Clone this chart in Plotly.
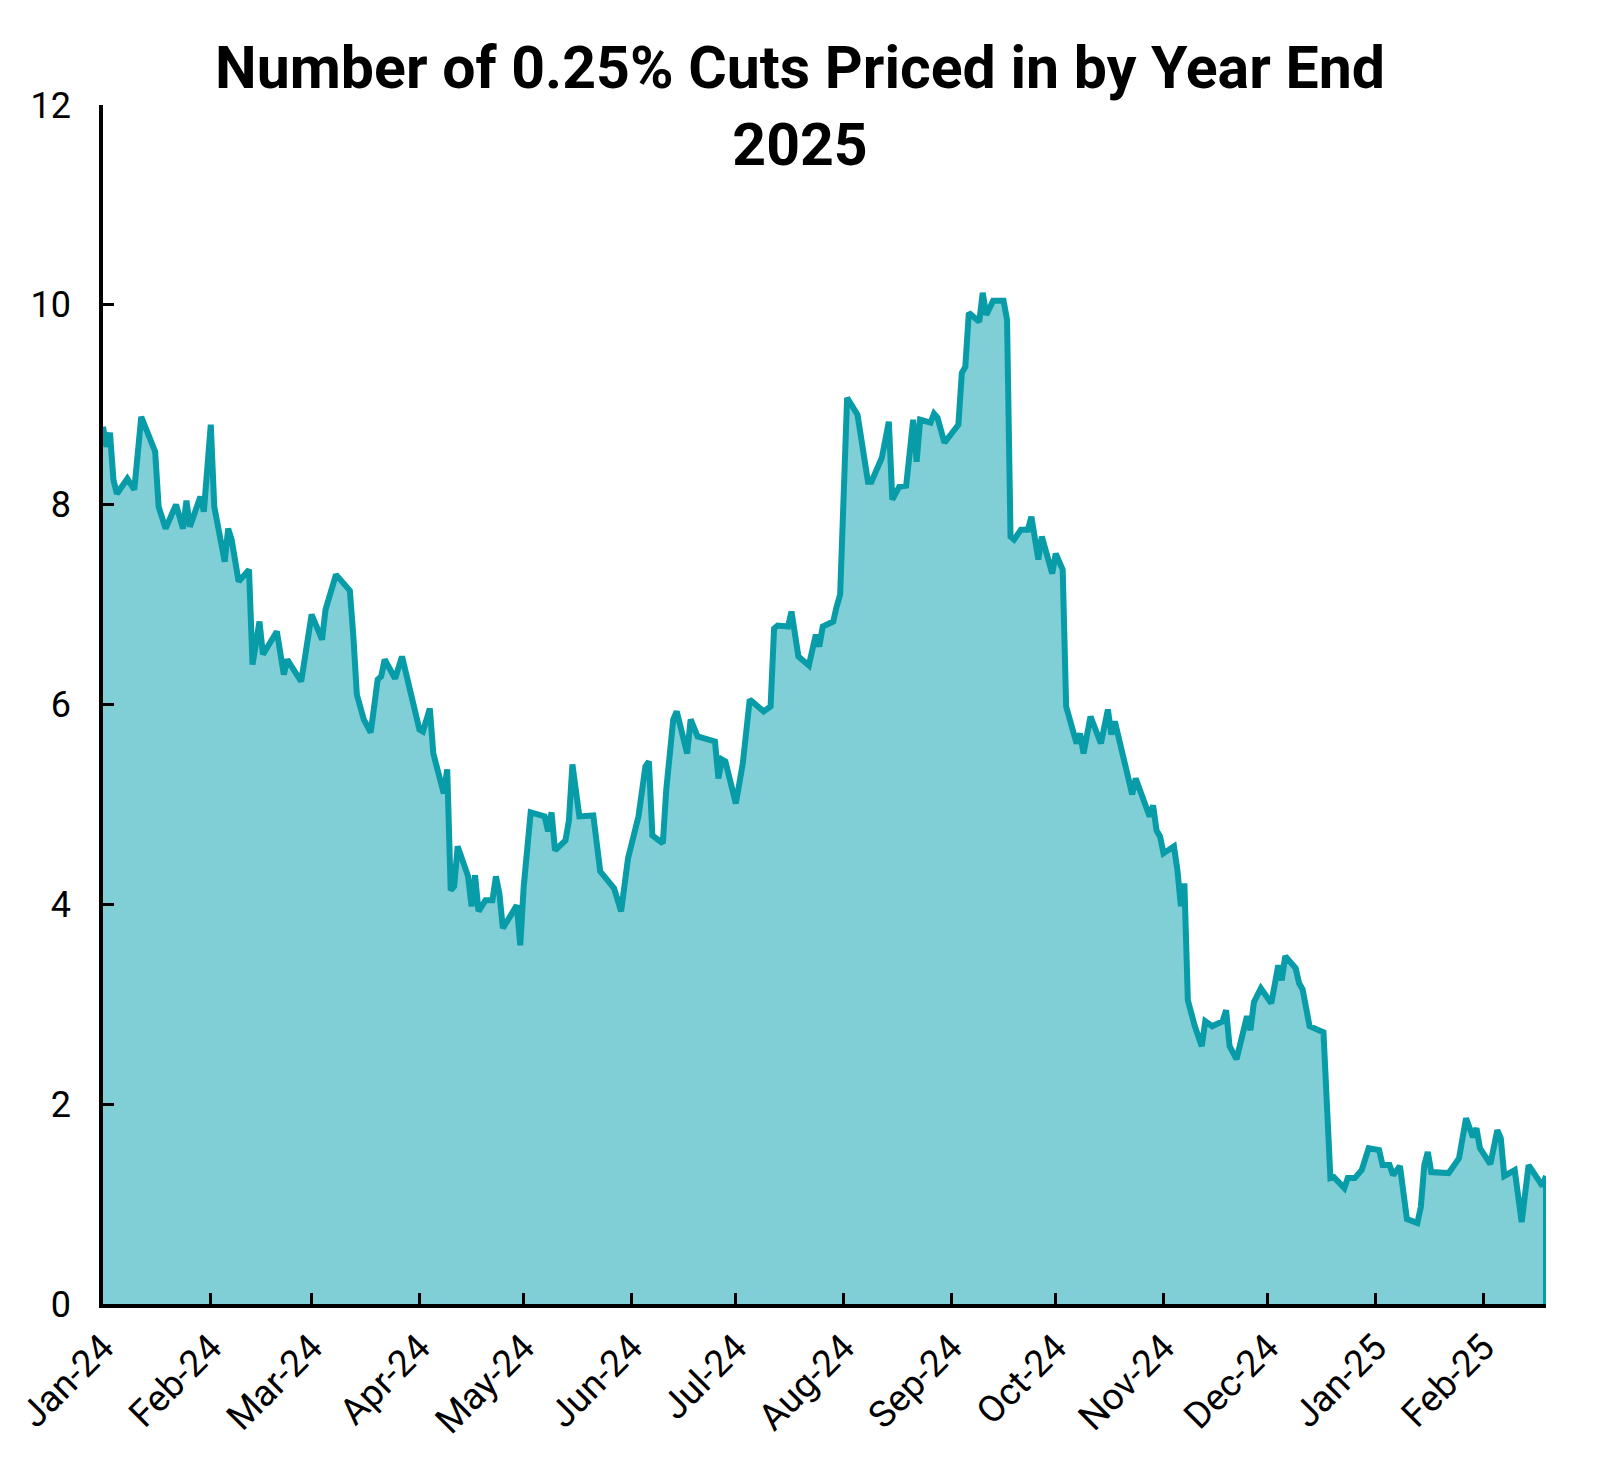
import pandas as pd
import plotly.graph_objects as go

# ---- data ----
start_date = "2024-01-01"
days_since_start = [
    0, 1, 2, 3, 4, 7, 9, 11, 15, 16, 18, 21, 23, 24, 25, 28, 29, 31, 32, 35,
    36, 37, 39, 42, 43, 45, 46, 50, 52, 53, 57, 58, 60, 63, 64, 67, 71, 72, 73, 75,
    77, 79, 80, 81, 84, 86, 88, 91, 92, 94, 95, 98, 99, 100, 101, 102, 105, 106, 107, 108,
    110, 112, 113, 114, 115, 119, 120, 121, 123, 127, 128, 129, 130, 133, 134, 135, 137, 141, 143, 147,
    149, 151, 154, 156, 157, 158, 161, 162, 164, 165, 168, 169, 171, 175, 176, 177, 178, 179, 182, 184,
    186, 190, 192, 193, 194, 197, 198, 200, 203, 205, 206, 207, 210, 211, 212, 214, 217, 220, 221, 224,
    226, 227, 229, 231, 233, 234, 235, 238, 239, 240, 242, 246, 247, 248, 249, 252, 253, 254, 256, 259,
    260, 261, 262, 264, 266, 267, 269, 270, 273, 274, 276, 277, 280, 281, 282, 284, 287, 289, 290, 291,
    295, 296, 297, 299, 301, 302, 303, 304, 305, 308, 309, 310, 311, 312, 314, 316, 317, 319, 322, 323,
    324, 326, 327, 329, 330, 331, 333, 336, 338, 339, 340, 343, 344, 345, 347, 350, 351, 353, 354, 357,
    358, 360, 362, 364, 367, 368, 370, 371, 373, 375, 378, 379, 380, 381, 382, 387, 390, 392, 394, 395,
    396, 399, 401, 402, 403, 406, 408, 410, 414, 415,
]
cuts_priced = [
    8.78, 8.58, 8.72, 8.25, 8.11, 8.26, 8.15, 8.88, 8.53, 7.98, 7.76, 8.00, 7.76, 8.04, 7.78, 8.08, 7.93, 8.80, 7.98, 7.43,
    7.76, 7.65, 7.23, 7.35, 6.40, 6.83, 6.50, 6.73, 6.30, 6.45, 6.23, 6.48, 6.90, 6.65, 6.95, 7.30, 7.14, 6.68, 6.10, 5.85,
    5.72, 6.25, 6.28, 6.45, 6.26, 6.48, 6.18, 5.75, 5.73, 5.96, 5.51, 5.11, 5.35, 4.14, 4.18, 4.58, 4.28, 3.98, 4.29, 3.93,
    4.04, 4.04, 4.28, 4.11, 3.76, 3.99, 3.59, 4.18, 4.92, 4.88, 4.73, 4.92, 4.54, 4.64, 4.84, 5.40, 4.88, 4.89, 4.33, 4.16,
    3.93, 4.46, 4.88, 5.38, 5.43, 4.69, 4.61, 5.15, 5.85, 5.93, 5.51, 5.85, 5.68, 5.65, 5.63, 5.26, 5.45, 5.43, 5.01, 5.41,
    6.05, 5.93, 5.98, 6.76, 6.79, 6.78, 6.93, 6.48, 6.39, 6.70, 6.58, 6.78, 6.83, 6.98, 7.10, 9.07, 8.90, 8.23, 8.23, 8.47,
    8.83, 8.05, 8.18, 8.19, 8.85, 8.43, 8.85, 8.82, 8.91, 8.87, 8.62, 8.80, 9.32, 9.38, 9.92, 9.83, 10.12, 9.90, 10.04, 10.04,
    9.85, 7.68, 7.65, 7.75, 7.75, 7.88, 7.45, 7.68, 7.31, 7.51, 7.35, 5.98, 5.61, 5.71, 5.51, 5.88, 5.61, 5.95, 5.70, 5.83,
    5.28, 5.10, 5.26, 5.06, 4.88, 4.99, 4.74, 4.68, 4.51, 4.58, 4.34, 3.98, 4.21, 3.04, 2.78, 2.58, 2.83, 2.78, 2.83, 2.94,
    2.58, 2.45, 2.58, 2.88, 2.74, 3.02, 3.16, 3.01, 3.39, 3.24, 3.48, 3.36, 3.21, 3.15, 2.78, 2.73, 2.72, 1.26, 1.27, 1.16,
    1.26, 1.26, 1.34, 1.56, 1.54, 1.39, 1.39, 1.29, 1.38, 0.85, 0.81, 0.97, 1.39, 1.52, 1.32, 1.31, 1.46, 1.86, 1.67, 1.76,
    1.56, 1.40, 1.74, 1.66, 1.28, 1.34, 0.82, 1.39, 1.18, 1.28,
]
y_ticks = [0, 2, 4, 6, 8, 10, 12]
title_text = "Number of 0.25% Cuts Priced in by Year End<br>2025"

dates = pd.Timestamp(start_date) + pd.to_timedelta(days_since_start, unit="D")

LINE = "#089CA9"
FILL = "#80CED6"

fig = go.Figure()
fig.add_trace(go.Scatter(
    x=dates, y=cuts_priced, mode="lines", fill="tozeroy",
    fillcolor=FILL, line=dict(color=LINE, width=6), hoverinfo="x+y",
    showlegend=False,
))
# closing edge of the area at the last observation
fig.add_trace(go.Scatter(
    x=[dates[-1], dates[-1]], y=[0, cuts_priced[-1]], mode="lines",
    line=dict(color=LINE, width=6), showlegend=False, hoverinfo="skip",
))

fig.update_layout(
    width=1600, height=1463,
    margin=dict(l=100, r=54, t=105, b=159, pad=0),
    paper_bgcolor="white", plot_bgcolor="white",
    title=dict(
        text=title_text, x=0.5, xanchor="center", y=1 - 88 / 1463, yanchor="middle",
        font=dict(family="Roboto", size=59, color="black", weight="bold"),
    ),
    xaxis=dict(
        type="date", range=[dates[0], dates[-1]],
        tick0="2024-01-01", dtick="M1", tickformat="%b-%y", tickangle=-45,
        ticks="inside", ticklen=11, tickwidth=3, tickcolor="black",
        showline=True, linecolor="black", linewidth=3.5,
        showgrid=False, zeroline=False,
        tickfont=dict(family="Roboto", size=37, color="black"),
        ticklabelstandoff=3,
    ),
    yaxis=dict(
        range=[0, 12], tickvals=y_ticks,
        ticks="inside", ticklen=11, tickwidth=3, tickcolor="black",
        showline=True, linecolor="black", linewidth=3.5,
        showgrid=False, zeroline=False,
        tickfont=dict(family="Roboto", size=36, color="black"),
        ticklabelstandoff=21,
    ),
)

fig.write_html("out.html", config={"displayModeBar": False},
               post_script="document.body.style.margin='0';")
